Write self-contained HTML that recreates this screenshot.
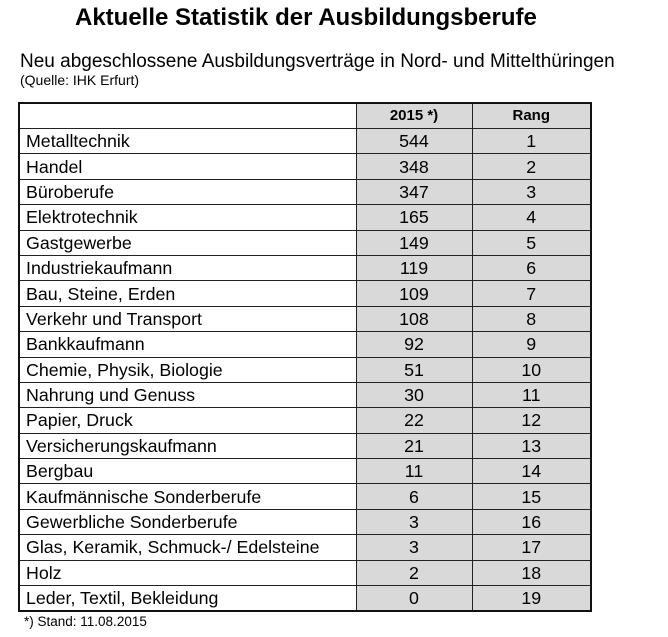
<!DOCTYPE html>
<html><head><meta charset="utf-8"><style>
body{margin:0;width:668px;height:637px;background:#fff;font-family:"Liberation Sans",sans-serif;color:#000;position:relative;overflow:hidden}
.t{position:absolute;white-space:nowrap}
table{position:absolute;left:18px;top:102px;border-collapse:collapse;border:2px solid #111}
td{border:1px solid #222;height:24.4px;padding:0;font-size:17.8px;line-height:24px}
td.n{background:#d9d9d9;text-align:center}
td.l{padding-left:6px}
tr.h td{height:22px;font-size:15px;font-weight:bold}
</style></head><body>
<div class="t" style="left:75px;top:4px;font-size:24px;font-weight:bold">Aktuelle Statistik der Ausbildungsberufe</div>
<div class="t" style="left:20px;top:51px;font-size:19px">Neu abgeschlossene Ausbildungsverträge in Nord- und Mittelthüringen</div>
<div class="t" style="left:20px;top:72px;font-size:14px">(Quelle: IHK Erfurt)</div>
<table>
<colgroup><col style="width:337px"><col style="width:116px"><col style="width:119px"></colgroup>
<tr class="h"><td style="background:#fff"></td><td class="n">2015 *)</td><td class="n">Rang</td></tr>
<tr><td class="l">Metalltechnik</td><td class="n">544</td><td class="n">1</td></tr>
<tr><td class="l">Handel</td><td class="n">348</td><td class="n">2</td></tr>
<tr><td class="l">Büroberufe</td><td class="n">347</td><td class="n">3</td></tr>
<tr><td class="l">Elektrotechnik</td><td class="n">165</td><td class="n">4</td></tr>
<tr><td class="l">Gastgewerbe</td><td class="n">149</td><td class="n">5</td></tr>
<tr><td class="l">Industriekaufmann</td><td class="n">119</td><td class="n">6</td></tr>
<tr><td class="l">Bau, Steine, Erden</td><td class="n">109</td><td class="n">7</td></tr>
<tr><td class="l">Verkehr und Transport</td><td class="n">108</td><td class="n">8</td></tr>
<tr><td class="l">Bankkaufmann</td><td class="n">92</td><td class="n">9</td></tr>
<tr><td class="l">Chemie, Physik, Biologie</td><td class="n">51</td><td class="n">10</td></tr>
<tr><td class="l">Nahrung und Genuss</td><td class="n">30</td><td class="n">11</td></tr>
<tr><td class="l">Papier, Druck</td><td class="n">22</td><td class="n">12</td></tr>
<tr><td class="l">Versicherungskaufmann</td><td class="n">21</td><td class="n">13</td></tr>
<tr><td class="l">Bergbau</td><td class="n">11</td><td class="n">14</td></tr>
<tr><td class="l">Kaufmännische Sonderberufe</td><td class="n">6</td><td class="n">15</td></tr>
<tr><td class="l">Gewerbliche Sonderberufe</td><td class="n">3</td><td class="n">16</td></tr>
<tr><td class="l">Glas, Keramik, Schmuck-/ Edelsteine</td><td class="n">3</td><td class="n">17</td></tr>
<tr><td class="l">Holz</td><td class="n">2</td><td class="n">18</td></tr>
<tr><td class="l">Leder, Textil, Bekleidung</td><td class="n">0</td><td class="n">19</td></tr>
</table>
<div class="t" style="left:24px;top:614px;font-size:13.5px">*) Stand: 11.08.2015</div>
</body></html>
